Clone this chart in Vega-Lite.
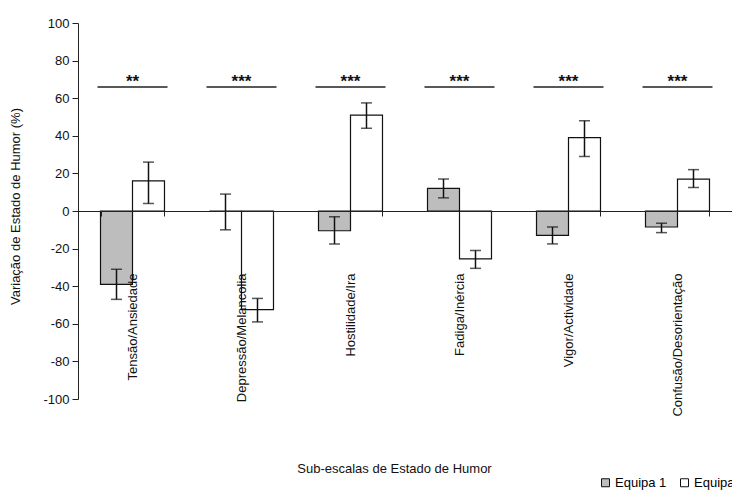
{
  "$schema": "https://vega.github.io/schema/vega-lite/v6.json",
  "width": 654,
  "height": 376,
  "autosize": {"type": "none"},
  "padding": {"left": 78, "top": 23, "right": 0, "bottom": 91},
  "background": "white",
  "config": {
    "font": "Liberation Sans, Arial, sans-serif",
    "view": {"stroke": null},
    "axis": {"grid": false, "domainColor": "#222", "tickColor": "#222", "labelColor": "#111", "titleColor": "#111", "labelFontSize": 13, "titleFontSize": 13, "titleFontWeight": "normal", "labelFont": "Liberation Sans", "titleFont": "Liberation Sans"},
    "axisY": {"labelOverlap": false, "tickCount": 11},
    "legend": {"labelFont": "Liberation Sans"}
  },
  "datasets": {
    "bars": [
      {"escala": "Tensão/Ansiedade", "equipa": "Equipa 1", "valor": -39, "inf": -47, "sup": -31},
      {"escala": "Tensão/Ansiedade", "equipa": "Equipa 2", "valor": 16, "inf": 4, "sup": 26},
      {"escala": "Depressão/Melancolia", "equipa": "Equipa 1", "valor": 0, "inf": -10, "sup": 9},
      {"escala": "Depressão/Melancolia", "equipa": "Equipa 2", "valor": -52.5, "inf": -59, "sup": -46.5},
      {"escala": "Hostilidade/Ira", "equipa": "Equipa 1", "valor": -10.5, "inf": -17.5, "sup": -3},
      {"escala": "Hostilidade/Ira", "equipa": "Equipa 2", "valor": 51, "inf": 44, "sup": 57.5},
      {"escala": "Fadiga/Inércia", "equipa": "Equipa 1", "valor": 12, "inf": 7, "sup": 17},
      {"escala": "Fadiga/Inércia", "equipa": "Equipa 2", "valor": -25.5, "inf": -30.5, "sup": -21},
      {"escala": "Vigor/Actividade", "equipa": "Equipa 1", "valor": -13, "inf": -17.5, "sup": -8.5},
      {"escala": "Vigor/Actividade", "equipa": "Equipa 2", "valor": 39, "inf": 29, "sup": 48},
      {"escala": "Confusão/Desorientação", "equipa": "Equipa 1", "valor": -8.5, "inf": -11.5, "sup": -6.5},
      {"escala": "Confusão/Desorientação", "equipa": "Equipa 2", "valor": 17, "inf": 12.5, "sup": 22}
    ],
    "sig": [
      {"escala": "Tensão/Ansiedade", "estrelas": "**"},
      {"escala": "Depressão/Melancolia", "estrelas": "***"},
      {"escala": "Hostilidade/Ira", "estrelas": "***"},
      {"escala": "Fadiga/Inércia", "estrelas": "***"},
      {"escala": "Vigor/Actividade", "estrelas": "***"},
      {"escala": "Confusão/Desorientação", "estrelas": "***"}
    ]
  },
  "resolve": {"scale": {"x": "shared", "y": "shared"}},
  "layer": [
    {
      "data": {"name": "bars"},
      "mark": {"type": "bar", "stroke": "#111", "strokeWidth": 1.2},
      "encoding": {
        "x": {
          "field": "escala", "type": "nominal", "sort": null,
          "scale": {"paddingInner": 0.413, "paddingOuter": 0.2065},
          "axis": {
            "title": "Sub-escalas de Estado de Humor",
            "titleX": 316, "titleY": 251, "titleBaseline": "top",
            "offset": -188, "labelAngle": -90, "labelAlign": "right", "labelBaseline": "middle",
            "tickBand": "extent", "tickSize": 5, "labelPadding": 57, "labelOverlap": false,
            "zindex": 1
          }
        },
        "xOffset": {"field": "equipa", "type": "nominal", "sort": null, "scale": {"paddingInner": 0, "paddingOuter": 0}},
        "y": {
          "field": "valor", "type": "quantitative",
          "scale": {"domain": [-100, 100], "nice": false, "zero": false},
          "axis": {
            "title": "Variação de Estado de Humor (%)",
            "values": [-100, -80, -60, -40, -20, 0, 20, 40, 60, 80, 100],
            "tickCount": 11,
            "labelExpr": "'' + datum.value",
            "labelOverlap": false,
            "tickSize": 6, "labelPadding": 3,
            "titleX": -63, "titleY": 183, "titleBaseline": "middle", "titleAngle": -90, "titleAlign": "center"
          }
        },
        "fill": {
          "field": "equipa", "type": "nominal",
          "scale": {"domain": ["Equipa 1", "Equipa 2"], "range": ["#bdbdbd", "#ffffff"]},
          "legend": {
            "title": null, "orient": "none", "legendX": 521, "legendY": 453, "direction": "horizontal",
            "symbolType": "square", "symbolSize": 64, "symbolStrokeColor": "#111", "symbolStrokeWidth": 1,
            "labelFontSize": 13, "labelOffset": 3, "columnPadding": 11, "symbolOffset": 0
          }
        }
      }
    },
    {
      "data": {"name": "bars"},
      "mark": {"type": "rule", "color": "#111", "strokeWidth": 1.5},
      "encoding": {
        "x": {"field": "escala", "type": "nominal", "sort": null},
        "xOffset": {"field": "equipa", "type": "nominal", "sort": null},
        "y": {"field": "inf", "type": "quantitative"},
        "y2": {"field": "sup"}
      }
    },
    {
      "data": {"name": "bars"},
      "mark": {"type": "tick", "color": "#111", "size": 11, "thickness": 1.5},
      "encoding": {
        "x": {"field": "escala", "type": "nominal", "sort": null},
        "xOffset": {"field": "equipa", "type": "nominal", "sort": null},
        "y": {"field": "inf", "type": "quantitative"}
      }
    },
    {
      "data": {"name": "bars"},
      "mark": {"type": "tick", "color": "#111", "size": 11, "thickness": 1.5},
      "encoding": {
        "x": {"field": "escala", "type": "nominal", "sort": null},
        "xOffset": {"field": "equipa", "type": "nominal", "sort": null},
        "y": {"field": "sup", "type": "quantitative"}
      }
    },
    {
      "data": {"name": "sig"},
      "mark": {"type": "tick", "color": "#111", "size": 70, "thickness": 2},
      "encoding": {
        "x": {"field": "escala", "type": "nominal", "sort": null},
        "y": {"datum": 66}
      }
    },
    {
      "data": {"name": "sig"},
      "mark": {"type": "text", "color": "#111", "fontSize": 17, "fontWeight": "bold", "font": "Liberation Sans", "dy": -5, "baseline": "middle"},
      "encoding": {
        "x": {"field": "escala", "type": "nominal", "sort": null},
        "y": {"datum": 66},
        "text": {"field": "estrelas"}
      }
    }
  ]
}
